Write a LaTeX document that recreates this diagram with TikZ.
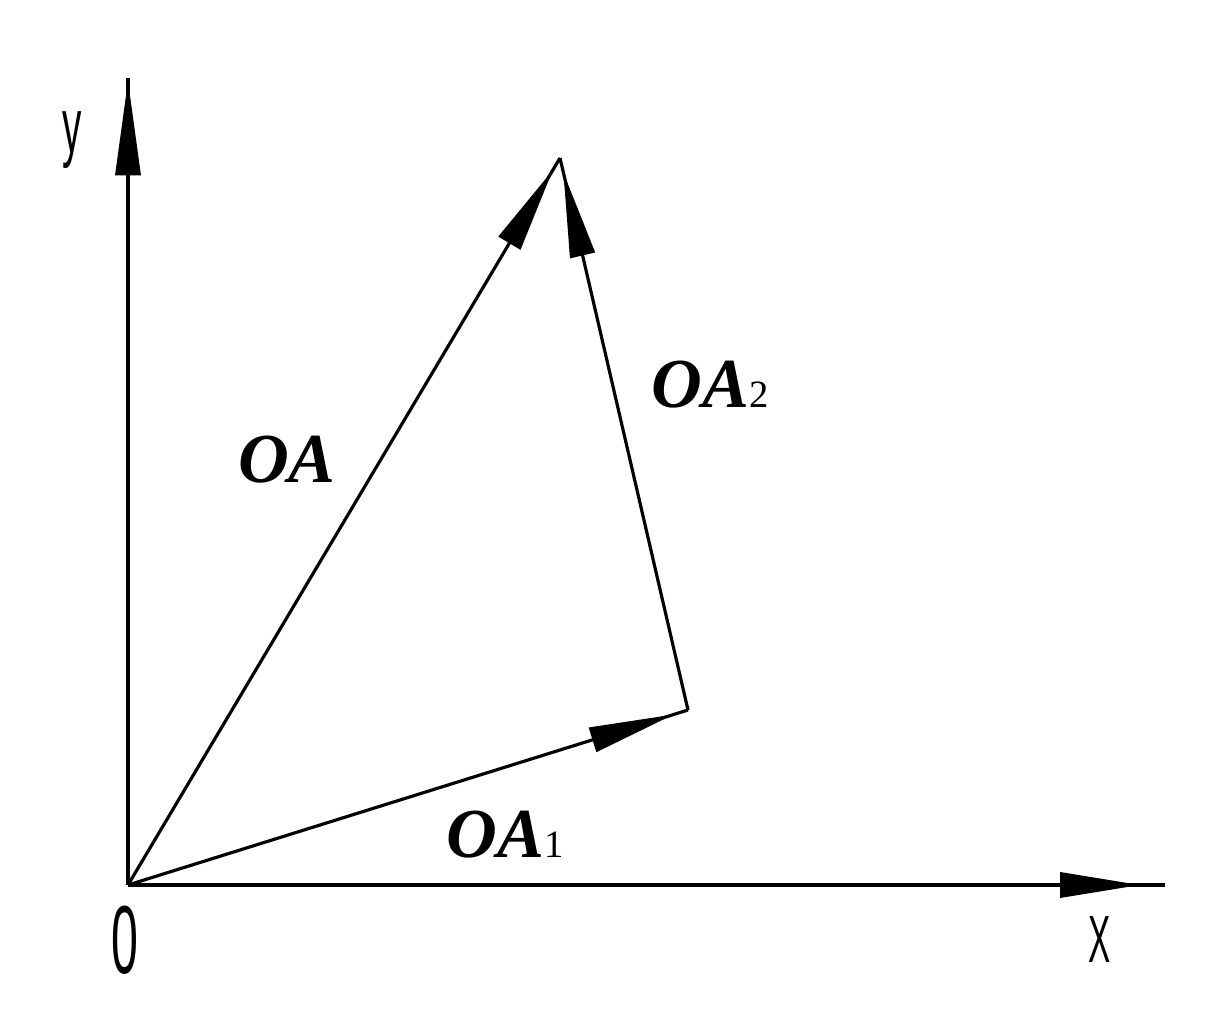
\documentclass[tikz,border=0pt]{standalone}
\usepackage{fontspec}
\setmainfont{Liberation Serif}
\newfontfamily\axisfont{Liberation Sans}
\usetikzlibrary{arrows.meta}
\usetikzlibrary{decorations.markings}
\usetikzlibrary{positioning}

\tikzset{
  vecline/.style={line width=1.8pt},
  axisline/.style={line width=2pt},
  tipat/.style 2 args={postaction={decorate},
    decoration={markings,
      mark=at position #1 with {\arrow{Triangle[length=#2,width=5mm]}}}},
  veclabel/.style={font=\fontsize{40}{42}\selectfont\bfseries\itshape},
  axislabel/.style={font=\axisfont, xscale=0.5}
}
\newcommand{\subdigit}[1]{{\fontsize{22}{23}\selectfont\normalfont #1}}

\begin{document}
\begin{tikzpicture}
  \useasboundingbox (-2.56,-2.94) rectangle (21.84,17.7);

  \coordinate (Origin) at (0,0);
  \coordinate (A)      at (8.64,14.54);
  \coordinate (Aone)   at (11.2,3.5);
  \coordinate (Ytop)   at (0,16.14);
  \coordinate (Xend)   at (20.74,0);

  % axes
  \draw [axisline, tipat={-0.05cm}{19mm}] (Origin) -- (Ytop);
  \draw [axisline, tipat={-0.5cm}{16mm}] (Origin) -- (Xend);

  % vectors
  \draw [vecline, tipat={-0.28cm}{17mm}] (Origin) -- (A);
  \draw [vecline, tipat={-0.3cm}{17mm}] (Origin) -- (Aone);
  \draw [vecline, tipat={-0.3cm}{17mm}] (Aone) -- (A);

  \node [axislabel, font=\axisfont\fontsize{44}{46}\selectfont] (ylab) at (-1.12,14.9) {y};
  \node [axislabel, font=\axisfont\fontsize{55}{57}\selectfont] (olab) at (-0.06,-1.1) {0};
  \node [axislabel, font=\axisfont\fontsize{38}{40}\selectfont] (xlab) at (19.44,-1.1) {X};

  \node [veclabel] (oalab)   at (3.18,8.5)  {OA};
  \node [veclabel] (oatwo)   at (11.64,10.0) {OA\subdigit{2}};
  \node [veclabel] (oaone)   at (7.54,1.0)  {OA\subdigit{1}};
\end{tikzpicture}
\end{document}
